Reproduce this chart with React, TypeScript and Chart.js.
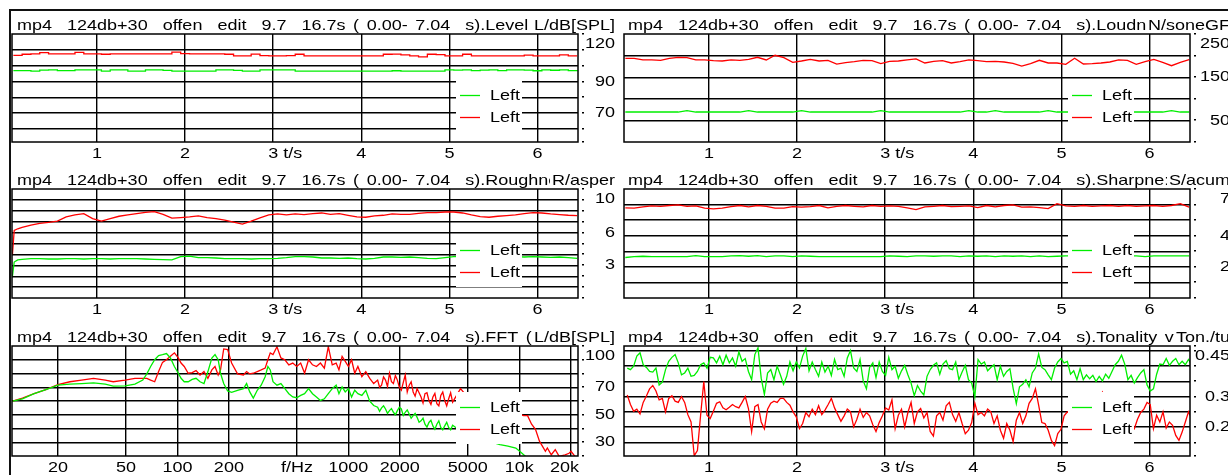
import React, { useEffect, useRef } from 'react';
import { Chart, registerables } from 'chart.js';

Chart.register(...registerables);

// ---------------- styling constants ----------------
const GREEN = '#00ee00';
const RED = '#ff0000';
const INK = '#000000';
const FONT_FAMILY = '"Liberation Sans", Arial, Helvetica, sans-serif';
const FONT_PX = 15;
const STRETCH_X = 1.2;
const TITLE_WORD_SPACING = 2.1;
const LINE_W = 1.3;
const GRID_W = 1.4;
const FRAME_W = 1.5;

// ---------------- text ----------------
const TITLE_PREFIX = 'mp4  124db+30  offen  edit  9.7  16.7s ( 0.00- 7.04  s).';
const LEGEND_LABELS = ['Left', 'Left'];

// ---------------- axes ----------------
const TIME_MIN = 0.035;
const TIME_MAX = 6.46;
const TIME_TICKS = [1, 2, 3, 4, 5, 6];
const TIME_TICK_LABELS = ['1', '2', '3 t/s', '4', '5', '6'];

const FREQ_MIN = 10.77;
const FREQ_MAX = 22050;
const FREQ_TICKS = [20, 50, 100, 200, 500, 1000, 2000, 5000, 10000, 20000];
const FREQ_TICK_LABELS = ['20', '50', '100', '200', 'f/Hz', '1000', '2000', '5000', '10k', '20k'];

// sampling grids (seconds)
const GRID_T0 = 0.05;
const GRID_DT = 0.1;
const TON_T0 = 0.072;
const TON_DT = 0.0362;

// ---------------- Level (dB SPL) ----------------
const LEVEL_GREEN = [
  96.9, 96.9, 96.5, 97.2, 97.3, 96.9, 96.9, 97.3, 97.3, 97.3,
  96.6, 97.3, 97.3, 96.5, 96.5, 97.4, 97.4, 97.0, 96.5, 96.5,
  96.5, 96.5, 96.5, 97.3, 97.4, 97.0, 96.5, 96.6, 97.3, 97.4,
  97.3, 97.3, 96.6, 96.5, 96.5, 96.5, 96.5, 96.5, 96.5, 96.5,
  96.5, 96.5, 96.5, 96.8, 96.5, 96.5, 96.5, 96.5, 96.5, 97.3,
  97.2, 97.3, 96.9, 97.2, 97.3, 96.9, 97.3, 97.4, 97.2, 96.8,
  97.3, 97.1, 97.3, 96.9, 97.3,
];
const LEVEL_RED = [
  106.5, 107.2, 107.4, 108.2, 107.4, 107.4, 107.4, 108.4, 107.4, 107.4,
  107.2, 107.4, 107.4, 107.4, 107.4, 107.4, 107.4, 107.4, 108.5, 107.6,
  107.4, 107.4, 107.4, 107.4, 107.2, 106.2, 106.2, 107.3, 106.3, 106.2,
  106.2, 106.4, 107.2, 106.2, 106.2, 106.2, 106.2, 106.2, 106.2, 106.2,
  106.2, 106.2, 107.2, 107.3, 106.8, 106.2, 105.6, 107.2, 107.0, 106.2,
  106.2, 107.2, 106.2, 106.2, 106.2, 106.2, 106.2, 106.2, 106.6, 106.2,
  106.2, 106.2, 106.8, 106.2, 106.2,
];

// ---------------- Loudness (sone) ----------------
const LOUD_GREEN = [
  69.4, 69.4, 69.4, 69.4, 69.4, 69.4, 69.4, 72.5, 69.4, 69.4,
  69.4, 69.4, 69.4, 69.4, 72.5, 69.4, 69.4, 69.4, 69.4, 69.4,
  72.5, 69.4, 69.4, 69.4, 69.4, 69.4, 69.4, 69.4, 69.4, 72.5,
  69.4, 69.4, 69.4, 69.4, 69.4, 69.4, 69.4, 69.4, 69.4, 72.5,
  69.4, 69.4, 72.5, 69.4, 69.4, 69.4, 69.4, 69.4, 72.5, 69.4,
  69.4, 69.4, 69.4, 69.4, 69.4, 69.4, 69.4, 69.4, 69.4, 69.4,
  69.4, 69.4, 72.5, 69.4, 69.4,
];
const LOUD_RED = [
  193.7, 193.7, 189.9, 189.9, 189.1, 193.7, 196.1, 195.3, 189.9, 189.9,
  188.3, 187.5, 189.9, 189.1, 191.4, 196.1, 189.9, 200.7, 195.3, 184.4,
  187.5, 191.4, 187.5, 189.1, 180.5, 183.6, 186.0, 189.1, 188.3, 181.3,
  186.7, 187.5, 189.9, 192.2, 182.9, 186.7, 188.3, 182.9, 186.0, 189.9,
  188.3, 186.0, 186.7, 185.2, 182.1, 175.9, 181.3, 189.1, 182.9, 182.9,
  179.8, 193.7, 180.5, 181.3, 182.9, 185.2, 189.9, 189.1, 179.8, 186.0,
  191.4, 184.4, 176.6, 184.4, 190.6,
];

// ---------------- Roughness (asper) ----------------
const ROUGH_HEAD_T = [0.04, 0.06, 0.1];
const ROUGH_HEAD_GREEN = [2.0, 3.3, 3.5];
const ROUGH_HEAD_RED = [4.0, 6.2, 6.35];
const ROUGH_GRID_T0 = 0.15;
const ROUGH_GREEN = [
  3.55, 3.61, 3.61, 3.58, 3.58, 3.61, 3.61, 3.58, 3.61, 3.61,
  3.58, 3.61, 3.61, 3.61, 3.58, 3.55, 3.52, 3.49, 3.8, 3.85,
  3.7, 3.7, 3.67, 3.61, 3.61, 3.61, 3.58, 3.61, 3.61, 3.64,
  3.7, 3.79, 3.79, 3.76, 3.67, 3.67, 3.64, 3.67, 3.61, 3.58,
  3.64, 3.76, 3.76, 3.73, 3.76, 3.7, 3.64, 3.61, 3.7, 3.79,
  3.79, 3.76, 3.79, 3.76, 3.73, 3.76, 3.79, 3.76, 3.79, 3.76,
  3.73, 3.76, 3.7, 3.64,
];
const ROUGH_RED = [
  6.48, 6.69, 6.84, 6.93, 7.05, 7.44, 7.62, 7.74, 7.29, 7.05,
  7.29, 7.5, 7.62, 7.74, 7.86, 7.92, 7.68, 7.32, 7.38, 7.44,
  7.53, 7.38, 7.29, 7.14, 6.96, 6.78, 7.05, 7.35, 7.62, 7.71,
  7.62, 7.71, 7.65, 7.74, 7.8, 7.68, 7.74, 7.59, 7.44, 7.41,
  7.53, 7.59, 7.71, 7.68, 7.68, 7.77, 7.83, 7.83, 7.89, 7.89,
  7.8, 7.62, 7.47, 7.41, 7.5, 7.56, 7.62, 7.74, 7.83, 7.8,
  7.71, 7.65, 7.59, 7.56,
];

// ---------------- Sharpness (acum) ----------------
const SHARP_GREEN = [
  2.6, 2.66, 2.68, 2.66, 2.66, 2.66, 2.66, 2.66, 2.72, 2.66,
  2.66, 2.66, 2.7, 2.72, 2.68, 2.72, 2.66, 2.7, 2.7, 2.66,
  2.7, 2.68, 2.66, 2.66, 2.66, 2.66, 2.66, 2.66, 2.66, 2.66,
  2.7, 2.68, 2.66, 2.7, 2.7, 2.68, 2.7, 2.7, 2.66, 2.7,
  2.68, 2.7, 2.66, 2.7, 2.68, 2.7, 2.66, 2.7, 2.66, 2.68,
  2.7, 2.7, 2.7, 2.7, 2.7, 2.7, 2.7, 2.7, 2.7, 2.66,
  2.7, 2.7, 2.7, 2.7, 2.7,
];
const SHARP_RED = [
  5.79, 5.77, 5.85, 5.91, 5.89, 5.94, 5.98, 5.89, 5.91, 5.77,
  5.72, 5.77, 5.87, 5.94, 5.85, 5.94, 5.89, 5.77, 5.77, 5.87,
  5.83, 5.87, 5.94, 5.79, 5.89, 5.94, 5.89, 5.85, 5.94, 5.89,
  5.91, 5.89, 5.79, 5.68, 5.85, 5.89, 5.94, 5.87, 5.89, 5.91,
  5.81, 5.94, 5.85, 5.94, 5.98, 5.83, 5.85, 5.81, 5.74, 6.06,
  5.91, 5.89, 5.94, 5.89, 5.91, 5.94, 5.89, 5.94, 5.89, 5.91,
  5.94, 5.89, 5.94, 6.06, 5.83,
];

// ---------------- FFT (dB SPL vs Hz) ----------------
const FFT_FREQS = [
  10.85, 12.4, 14.5, 17.0, 20.0, 23.5, 27.5, 32.3, 37.8, 42.1,
  49.4, 56.4, 62.7, 66.2, 69.7, 73.6, 77.6, 81.8, 86.3, 91.0,
  96.0, 101.2, 105.0, 109.6, 115.6, 121.9, 128.5, 135.6, 143.0, 150.8,
  159.0, 165.9, 173.1, 178.7, 186.5, 196.7, 207.5, 224.7, 243.3, 253.9,
  264.9, 277.9, 293.1, 309.0, 326.0, 338.2, 349.2, 362.4, 382.2, 403.1,
  425.2, 448.5, 472.9, 498.8, 526.0, 554.6, 584.9, 617.0, 650.6, 686.2,
  723.6, 763.2, 804.9, 848.6, 880.8, 919.0, 959.0, 1000.7, 1044.2, 1089.5,
  1137.0, 1199.3, 1264.7, 1333.8, 1406.4, 1483.3, 1564.3, 1649.8, 1739.9, 1834.9,
  1935.0, 2041.0, 2151.7, 2269.3, 2393.3, 2524.1, 2662.0, 2807.4, 2960.8, 3122.6,
  3293.1, 3473.0, 3661.9, 3862.2, 4073.2, 4530.9, 5039.5, 5604.1, 6573.2, 7709.0,
  8576.0, 9536.6, 10055, 10605, 11183, 11797, 12437, 13121, 14214, 14589,
  15389, 16231, 17120, 18535, 19548, 20076, 21174,
];
const FFT_GREEN = [
  59.9, 61.6, 65.3, 68.3, 71.5, 72.3, 72.7, 73.2, 72.3, 70.8,
  71.0, 72.3, 75.2, 79.7, 85.1, 90.0, 93.0, 93.7, 94.5, 91.3,
  85.1, 80.2, 76.5, 74.0, 74.0, 75.7, 76.5, 74.0, 72.7, 81.4,
  91.3, 93.7, 90.0, 80.2, 72.7, 67.3, 66.3, 67.8, 69.0, 72.7,
  66.6, 62.1, 67.8, 71.5, 77.7, 85.1, 82.6, 74.0, 71.5, 72.7,
  69.0, 65.3, 62.9, 62.4, 64.1, 65.3, 69.0, 65.3, 62.9, 60.4,
  61.6, 65.3, 69.0, 71.5, 65.3, 70.3, 66.6, 69.0, 62.9, 67.8,
  65.3, 64.1, 67.8, 59.9, 56.7, 55.5, 55.0, 54.2, 53.0, 51.8,
  53.0, 54.2, 51.8, 50.5, 49.3, 48.1, 45.6, 43.1, 44.4, 41.9,
  43.1, 40.7, 41.9, 40.7, 42.4, 38.2, 35.7, 29.5, 30.8, 28.3,
  27.1, 25.8, 23.4, 20.9, 18.4, 17, 15, 14, 13, 12,
  12, 11, 11, 10, 10, 10, 10,
];
const FFT_RED = [
  59.9, 62.1, 65.3, 68.3, 72.0, 74.0, 75.2, 76.5, 75.2, 74.0,
  75.2, 76.5, 76.5, 76.5, 75.2, 74.0, 81.4, 88.1, 90.0, 92.5,
  95.0, 91.3, 87.6, 85.1, 80.2, 80.7, 82.1, 78.9, 81.4, 76.5,
  82.6, 85.1, 78.9, 82.6, 97.9, 97.4, 87.6, 79.7, 78.9, 81.4,
  79.7, 80.2, 81.4, 82.6, 83.9, 90.0, 95.0, 93.7, 99.4, 91.3,
  90.0, 86.3, 87.6, 85.1, 87.6, 80.2, 90.0, 86.3, 85.1, 87.6,
  83.9, 99.5, 86.3, 87.6, 82.6, 92.5, 88.8, 85.1, 90.0, 80.2,
  85.1, 77.7, 81.4, 76.5, 72.7, 75.2, 71.5, 75.2, 80.2, 72.7,
  75.2, 67.8, 78.9, 71.5, 66.6, 69.0, 62.9, 65.3, 60.4, 62.9,
  58.0, 64.1, 60.4, 61.6, 59.2, 69.0, 62, 60, 57, 55,
  53, 51, 50.5, 49.3, 49.3, 43.1, 39.4, 30.8, 23.4, 25.8,
  20.9, 24.6, 19.7, 20.9, 22.0, 23.4, 19.7,
];
// extra readings inside the dense noisy band (1.5 - 4 kHz)
const FFT_BAND_FREQS = [
  1523, 1606, 1694, 1787, 1884, 1987, 2096, 2210, 2330, 2458,
  2592, 2734, 2883, 3041, 3207, 3382, 3566, 3761, 3966,
];
const FFT_BAND_GREEN = [
  52.5, 56.5, 51.0, 54.5, 50.0, 55.5, 49.5, 53.5, 47.5, 51.0,
  44.5, 47.5, 41.0, 46.0, 39.5, 45.5, 39.0, 44.5, 39.0,
];
const FFT_BAND_RED = [
  70.0, 77.5, 70.5, 74.0, 78.5, 70.0, 73.5, 66.5, 74.0, 63.5,
  66.0, 58.5, 66.0, 57.5, 65.5, 56.5, 66.5, 56.5, 66.0,
];

// ---------------- Tonality (tu) ----------------
const TON_GREEN = [
  .393, .388, .399, .432, .443, .404, .395, .382, .38, .393,
  .338, .347, .388, .415, .428, .437, .41, .371, .377, .393,
  .366, .369, .382, .404, .41, .393, .428, .426, .41, .432,
  .404, .435, .41, .426, .399, .446, .415, .424, .382, .355,
  .437, .459, .36, .307, .377, .388, .355, .399, .371, .34,
  .366, .413, .384, .413, .393, .432, .457, .384, .413, .388,
  .366, .413, .38, .399, .369, .421, .388, .393, .366, .426,
  .45, .393, .382, .421, .351, .325, .395, .41, .362, .413,
  .382, .369, .428, .388, .399, .36, .384, .402, .371, .344,
  .303, .336, .318, .305, .366, .388, .402, .41, .373, .406,
  .417, .391, .388, .413, .355, .38, .402, .355, .344, .3,
  .421, .406, .413, .384, .395, .404, .355, .399, .366, .382,
  .391, .327, .277, .332, .34, .355, .332, .377, .393, .439,
  .395, .388, .371, .355, .393, .413, .424, .41, .415, .373,
  .384, .355, .391, .355, .371, .358, .369, .349, .366, .351,
  .373, .36, .382, .404, .415, .435, .406, .355, .369, .344,
  .362, .377, .388, .338, .318, .325, .373, .406, .404, .424,
  .402, .415, .424, .404, .415, .404, .421, .404,
];
const TON_RED = [
  .305, .274, .252, .259, .243, .281, .302, .325, .336, .318,
  .289, .294, .25, .294, .303, .285, .281, .3, .281, .241,
  .217, .107, .124, .239, .349, .239, .228, .252, .278, .283,
  .263, .257, .265, .274, .267, .263, .281, .3, .261, .186,
  .267, .274, .217, .195, .259, .278, .285, .281, .294, .294,
  .281, .272, .25, .234, .195, .212, .248, .234, .259, .241,
  .27, .241, .256, .274, .294, .263, .241, .219, .237, .259,
  .25, .201, .226, .259, .232, .248, .237, .208, .186, .215,
  .237, .263, .256, .289, .195, .239, .259, .201, .248, .281,
  .212, .25, .261, .23, .248, .186, .171, .237, .248, .223,
  .27, .281, .241, .219, .248, .212, .179, .19, .215, .278,
  .241, .248, .237, .259, .25, .212, .237, .19, .164, .212,
  .19, .153, .223, .248, .212, .237, .278, .294, .325, .272,
  .215, .212, .19, .157, .14, .179, .193, .237, .25, .245,
  .239, .256, .228, .25, .234, .261, .239, .272, .294, .314,
  .281, .245, .228, .25, .217, .239, .206, .226, .206, .195,
  .226, .248, .259, .281, .274, .195, .239, .217, .25, .197,
  .217, .206, .173, .157, .184, .217, .25, .228,
];

// ---------------- layout (page pixels) ----------------
const COLS = [
  { canvasLeft: 10, canvasWidth: 610, plotLeft: 12, plotRight: 578, titleX: 17, labelRight: 615, unitRight: 615 },
  { canvasLeft: 620, canvasWidth: 608, plotLeft: 624, plotRight: 1190, titleX: 628, labelRight: 1230, unitRight: 1230 },
];
const ROWS = [
  { canvasTop: 11, canvasHeight: 151, plotTop: 34, plotBottom: 142 },
  { canvasTop: 162, canvasHeight: 156, plotTop: 189, plotBottom: 298 },
  { canvasTop: 318, canvasHeight: 157, plotTop: 346, plotBottom: 456 },
];

type Pt = { x: number; y: number };

function onGrid(t0: number, dt: number, values: number[]): Pt[] {
  return values.map((v, i) => ({ x: t0 + i * dt, y: v }));
}
function paired(xs: number[], ys: number[]): Pt[] {
  return ys.map((v, i) => ({ x: xs[i], y: v }));
}
function merged(a: Pt[], b: Pt[]): Pt[] {
  return [...a, ...b].sort((p, q) => p.x - q.x);
}

interface PanelDef {
  key: string;
  col: number;
  row: number;
  name: string;
  unit: string;
  xType: 'linear' | 'logarithmic';
  xMin: number;
  xMax: number;
  xTicks: number[];
  xLabels: string[];
  yMin: number;
  yMax: number;
  yGrid: number[];
  yLabelValues: number[];
  yLabelTexts: string[];
  green: Pt[];
  red: Pt[];
  stepped: boolean;
}

const PANELS: PanelDef[] = [
  {
    key: 'level', col: 0, row: 0, name: 'Level v', unit: 'L/dB[SPL]',
    xType: 'linear', xMin: TIME_MIN, xMax: TIME_MAX, xTicks: TIME_TICKS, xLabels: TIME_TICK_LABELS,
    yMin: 51.8, yMax: 120, yGrid: [110, 100, 90, 80, 70, 60],
    yLabelValues: [120, 90, 70], yLabelTexts: ['120', '90', '70'],
    green: onGrid(GRID_T0, GRID_DT, LEVEL_GREEN), red: onGrid(GRID_T0, GRID_DT, LEVEL_RED), stepped: true,
  },
  {
    key: 'loud', col: 1, row: 0, name: 'Loudn', unit: 'N/soneGF',
    xType: 'linear', xMin: TIME_MIN, xMax: TIME_MAX, xTicks: TIME_TICKS, xLabels: TIME_TICK_LABELS,
    yMin: 0, yMax: 250, yGrid: [200, 150, 100, 50],
    yLabelValues: [250, 150, 50], yLabelTexts: ['250', '150', '50'],
    green: onGrid(GRID_T0, GRID_DT, LOUD_GREEN), red: onGrid(GRID_T0, GRID_DT, LOUD_RED), stepped: false,
  },
  {
    key: 'rough', col: 0, row: 1, name: 'Roughne', unit: 'R/asper',
    xType: 'linear', xMin: TIME_MIN, xMax: TIME_MAX, xTicks: TIME_TICKS, xLabels: TIME_TICK_LABELS,
    yMin: 0, yMax: 10, yGrid: [9, 8, 7, 6, 5, 4, 3, 2, 1],
    yLabelValues: [10, 6, 3], yLabelTexts: ['10', '6', '3'],
    green: [...paired(ROUGH_HEAD_T, ROUGH_HEAD_GREEN), ...onGrid(ROUGH_GRID_T0, GRID_DT, ROUGH_GREEN)],
    red: [...paired(ROUGH_HEAD_T, ROUGH_HEAD_RED), ...onGrid(ROUGH_GRID_T0, GRID_DT, ROUGH_RED)],
    stepped: false,
  },
  {
    key: 'sharp', col: 1, row: 1, name: 'Sharpne:', unit: 'S/acum',
    xType: 'linear', xMin: TIME_MIN, xMax: TIME_MAX, xTicks: TIME_TICKS, xLabels: TIME_TICK_LABELS,
    yMin: 0, yMax: 7, yGrid: [6, 5, 4, 3, 2, 1],
    yLabelValues: [7, 4, 2], yLabelTexts: ['7', '4', '2'],
    green: onGrid(GRID_T0, GRID_DT, SHARP_GREEN), red: onGrid(GRID_T0, GRID_DT, SHARP_RED), stepped: false,
  },
  {
    key: 'fft', col: 0, row: 2, name: 'FFT (4', unit: 'L/dB[SPL]',
    xType: 'logarithmic', xMin: FREQ_MIN, xMax: FREQ_MAX, xTicks: FREQ_TICKS, xLabels: FREQ_TICK_LABELS,
    yMin: 20, yMax: 100, yGrid: [90, 80, 70, 60, 50, 40, 30],
    yLabelValues: [100, 70, 50, 30], yLabelTexts: ['100', '70', '50', '30'],
    green: merged(paired(FFT_FREQS, FFT_GREEN), paired(FFT_BAND_FREQS, FFT_BAND_GREEN)),
    red: merged(paired(FFT_FREQS, FFT_RED), paired(FFT_BAND_FREQS, FFT_BAND_RED)),
    stepped: false,
  },
  {
    key: 'ton', col: 1, row: 2, name: 'Tonality v', unit: 'Ton./tu',
    xType: 'linear', xMin: TIME_MIN, xMax: TIME_MAX, xTicks: TIME_TICKS, xLabels: TIME_TICK_LABELS,
    yMin: 0.106, yMax: 0.465, yGrid: [0.45, 0.4, 0.35, 0.3, 0.25, 0.2, 0.15],
    yLabelValues: [0.45, 0.3, 0.2], yLabelTexts: ['0.45', '0.3', '0.2'],
    green: onGrid(TON_T0, TON_DT, TON_GREEN), red: onGrid(TON_T0, TON_DT, TON_RED), stepped: false,
  },
];

// ---------------- drawing helpers ----------------
const FONT = `${FONT_PX}px ${FONT_FAMILY}`;

function textWidth(ctx: CanvasRenderingContext2D, text: string, wordSpacing = 0): number {
  ctx.save();
  ctx.font = FONT;
  (ctx as any).wordSpacing = `${wordSpacing}px`;
  const w = ctx.measureText(text).width * STRETCH_X;
  ctx.restore();
  return w;
}

function drawText(
  ctx: CanvasRenderingContext2D,
  text: string,
  x: number,
  y: number,
  align: 'left' | 'center' | 'right',
  baseline: CanvasTextBaseline,
  wordSpacing = 0,
) {
  const w = textWidth(ctx, text, wordSpacing);
  const x0 = align === 'left' ? x : align === 'right' ? x - w : x - w / 2;
  ctx.save();
  ctx.font = FONT;
  (ctx as any).wordSpacing = `${wordSpacing}px`;
  ctx.textAlign = 'left';
  ctx.textBaseline = baseline;
  ctx.fillStyle = INK;
  ctx.translate(x0, y);
  ctx.scale(STRETCH_X, 1);
  ctx.fillText(text, 0, 0);
  ctx.restore();
}

function decorPlugin(p: PanelDef) {
  const col = COLS[p.col];
  return {
    id: 'decor_' + p.key,
    afterDraw(chart: any) {
      const ctx: CanvasRenderingContext2D = chart.ctx;
      const { left, top, right, bottom } = chart.chartArea;
      const xs = chart.scales.x;
      const ys = chart.scales.y;
      ctx.save();

      // legend box
      const bx = left + 444;
      const by = top + 46;
      ctx.fillStyle = '#ffffff';
      ctx.fillRect(bx, by, 66, 52);
      [GREEN, RED].forEach((color, i) => {
        const yy = Math.round(top + 61 + i * 22) + 0.5;
        ctx.strokeStyle = color;
        ctx.lineWidth = LINE_W;
        ctx.beginPath();
        ctx.moveTo(bx + 4, yy);
        ctx.lineTo(bx + 24, yy);
        ctx.stroke();
        drawText(ctx, LEGEND_LABELS[i], bx + 34, yy, 'left', 'middle');
      });

      // plot frame
      ctx.strokeStyle = INK;
      ctx.lineWidth = FRAME_W;
      ctx.strokeRect(left, top, right - left, bottom - top);

      // title + unit
      const titleX = col.titleX - col.canvasLeft;
      drawText(ctx, TITLE_PREFIX + p.name, titleX, top - 4, 'left', 'alphabetic', TITLE_WORD_SPACING);
      const unitRight = col.unitRight - col.canvasLeft;
      const uw = textWidth(ctx, p.unit);
      ctx.fillStyle = '#ffffff';
      ctx.fillRect(unitRight - uw - 2, top - 19, uw + 2, 17);
      drawText(ctx, p.unit, unitRight, top - 4, 'right', 'alphabetic');

      // y labels (right side)
      const labelRight = col.labelRight - col.canvasLeft;
      p.yLabelValues.forEach((v, i) => {
        let y = ys.getPixelForValue(v);
        y = Math.max(y, top + 10);
        y = Math.min(y, bottom - 6);
        drawText(ctx, p.yLabelTexts[i], labelRight, y, 'right', 'middle');
      });
      // small tick dots
      ctx.fillStyle = INK;
      [p.yMax, ...p.yGrid, p.yMin].forEach((v) => {
        const y = Math.round(ys.getPixelForValue(v));
        ctx.fillRect(Math.round(right) + 4, y - 1, 2, 1.5);
      });

      // x labels
      p.xTicks.forEach((v, i) => {
        const x = xs.getPixelForValue(v);
        const text = p.xLabels[i];
        const y = bottom + 12;
        if (text.indexOf(' ') > 0) {
          const head = text.split(' ')[0];
          const hw = textWidth(ctx, head);
          drawText(ctx, text, x - hw / 2, y, 'left', 'middle');
        } else {
          const w = textWidth(ctx, text);
          let cx = x;
          if (cx + w / 2 > right + 1) cx = right + 1 - w / 2;
          drawText(ctx, text, cx, y, 'center', 'middle');
        }
      });
      ctx.restore();
    },
  };
}

function buildConfig(p: PanelDef): any {
  const col = COLS[p.col];
  const row = ROWS[p.row];
  const pad = {
    left: col.plotLeft - col.canvasLeft,
    right: col.canvasLeft + col.canvasWidth - col.plotRight,
    top: row.plotTop - row.canvasTop,
    bottom: row.canvasTop + row.canvasHeight - row.plotBottom,
  };
  const ds = (data: Pt[], color: string) => ({
    data,
    borderColor: color,
    backgroundColor: color,
    borderWidth: LINE_W,
    pointRadius: 0,
    tension: 0,
    fill: false,
    stepped: p.stepped,
  });
  return {
    type: 'line',
    data: { datasets: [ds(p.green, GREEN), ds(p.red, RED)] },
    options: {
      animation: false,
      responsive: false,
      maintainAspectRatio: false,
      devicePixelRatio: 1,
      events: [],
      layout: { padding: pad },
      plugins: {
        legend: { display: false },
        title: { display: false },
        tooltip: { enabled: false },
      },
      scales: {
        x: {
          type: p.xType,
          min: p.xMin,
          max: p.xMax,
          position: 'bottom',
          grid: { color: INK, lineWidth: GRID_W, drawTicks: false },
          border: { display: false },
          ticks: { display: false },
          afterBuildTicks: (s: any) => {
            s.ticks = p.xTicks.map((v) => ({ value: v }));
          },
          afterFit: (s: any) => {
            s.height = 0;
          },
        },
        y: {
          type: 'linear',
          min: p.yMin,
          max: p.yMax,
          position: 'right',
          grid: { color: INK, lineWidth: GRID_W, drawTicks: false },
          border: { display: false },
          ticks: { display: false },
          afterBuildTicks: (s: any) => {
            s.ticks = p.yGrid.map((v) => ({ value: v }));
          },
          afterFit: (s: any) => {
            s.width = 0;
          },
        },
      },
    },
    plugins: [decorPlugin(p)],
  };
}

function Panel({ def }: { def: PanelDef }) {
  const ref = useRef<HTMLCanvasElement>(null);
  const col = COLS[def.col];
  const row = ROWS[def.row];
  useEffect(() => {
    if (!ref.current) return;
    const chart = new Chart(ref.current, buildConfig(def));
    return () => chart.destroy();
  }, [def]);
  return (
    <canvas
      ref={ref}
      width={col.canvasWidth}
      height={row.canvasHeight}
      style={{
        position: 'absolute',
        left: col.canvasLeft,
        top: row.canvasTop,
        width: col.canvasWidth,
        height: row.canvasHeight,
      }}
    />
  );
}

export default function App() {
  return (
    <div
      style={{
        position: 'absolute',
        left: 0,
        top: 0,
        width: 1228,
        height: 475,
        background: '#ffffff',
        overflow: 'hidden',
      }}
    >
      <div style={{ position: 'absolute', left: 10, top: 9, width: 1218, height: 2, background: '#111' }} />
      <div style={{ position: 'absolute', left: 9, top: 9, width: 2, height: 466, background: '#111' }} />
      {PANELS.map((p) => (
        <Panel key={p.key} def={p} />
      ))}
    </div>
  );
}
